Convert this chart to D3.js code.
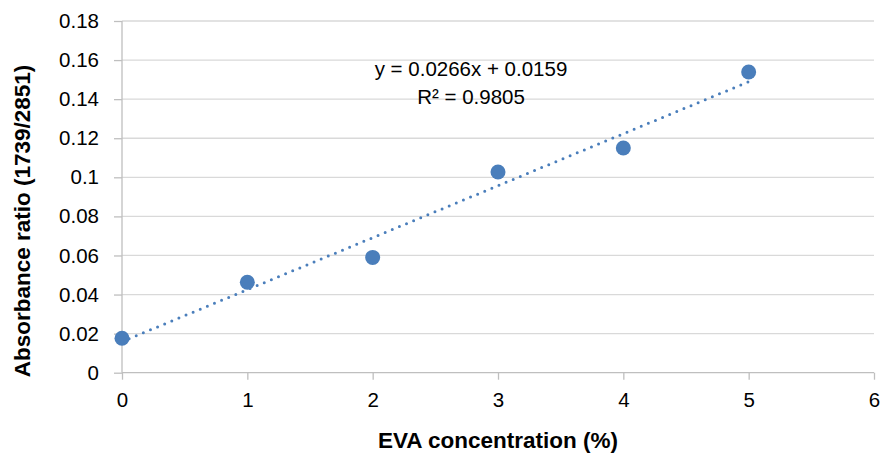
<!DOCTYPE html>
<html><head><meta charset="utf-8">
<script src="https://cdn.jsdelivr.net/npm/d3@7"></script>
<style>
body{margin:0;background:#fff;}
text{font-family:"Liberation Sans",Arial,sans-serif;fill:#000;}
</style></head>
<body><svg id="c" width="880" height="457"></svg>
<script>
const xValues = [0, 1, 2, 3, 4, 5];
const yValues = [0.0176, 0.0463, 0.0590, 0.1027, 0.1150, 0.1539];
const xTicks = [0, 1, 2, 3, 4, 5, 6];
const yTicks = [0, 0.02, 0.04, 0.06, 0.08, 0.1, 0.12, 0.14, 0.16, 0.18];
const trendSlope = 0.0266, trendIntercept = 0.0159;
const eqText = "y = 0.0266x + 0.0159";
const r2Text = "R² = 0.9805";
const xTitle = "EVA concentration (%)";
const yTitle = "Absorbance ratio (1739/2851)";

const svg = d3.select("#c");
const L = 122, R = 874, T = 21, B = 372.7;
const x = d3.scaleLinear().domain([0, 6]).range([L, R]);
const y = d3.scaleLinear().domain([0, 0.18]).range([B, T]);
const blue = "#4a7ebb";
const fs = 20.5;

// gridlines
svg.append("g").selectAll("line").data(yTicks.filter(d => d > 0)).join("line")
  .attr("x1", L).attr("x2", R).attr("y1", d => y(d)).attr("y2", d => y(d))
  .attr("stroke", "#d9d9d9").attr("stroke-width", 1.3);

// y axis
const ya = svg.append("g").attr("transform", `translate(${L},0)`)
  .call(d3.axisLeft(y).tickValues(yTicks).tickSize(8).tickPadding(15).tickFormat(d => d3.format("")(+d.toFixed(2))));
ya.select(".domain").attr("stroke", "#bfbfbf").attr("stroke-width", 1.3).attr("d", `M0,${B}V${T}`);
ya.selectAll(".tick line").attr("stroke", "#bfbfbf").attr("stroke-width", 1.3);
ya.selectAll(".tick text").attr("font-size", fs).attr("font-family", "Liberation Sans, Arial, sans-serif").attr("fill", "#000");

// x axis
const xa = svg.append("g").attr("transform", `translate(0,${B})`)
  .call(d3.axisBottom(x).tickValues(xTicks).tickSize(7).tickPadding(13).tickFormat(d3.format("d")));
xa.select(".domain").attr("stroke", "#bfbfbf").attr("stroke-width", 1.3).attr("d", `M${L},0H${R}`);
xa.selectAll(".tick line").attr("stroke", "#bfbfbf").attr("stroke-width", 1.3);
xa.selectAll(".tick text").attr("font-size", fs).attr("font-family", "Liberation Sans, Arial, sans-serif").attr("fill", "#000");

// trendline
const x0 = d3.min(xValues), x1 = d3.max(xValues);
svg.append("line")
  .attr("x1", x(x0)).attr("y1", y(trendIntercept + trendSlope * x0))
  .attr("x2", x(x1)).attr("y2", y(trendIntercept + trendSlope * x1))
  .attr("stroke", blue).attr("stroke-width", 3).attr("stroke-linecap", "round")
  .attr("stroke-dasharray", "0 7.7");

// points
svg.append("g").selectAll("circle").data(xValues.map((v, i) => [v, yValues[i]])).join("circle")
  .attr("cx", d => x(d[0])).attr("cy", d => y(d[1])).attr("r", 7.5).attr("fill", blue);

// equation
svg.append("text").attr("x", 471).attr("y", 76).attr("text-anchor", "middle").attr("font-size", fs).text(eqText);
svg.append("text").attr("x", 471).attr("y", 104).attr("text-anchor", "middle").attr("font-size", fs).text(r2Text);

// axis titles
svg.append("text").attr("x", 498).attr("y", 448).attr("text-anchor", "middle")
  .attr("font-size", 22.5).attr("font-weight", "bold").text(xTitle);
svg.append("text").attr("transform", "translate(30,221) rotate(-90)").attr("text-anchor", "middle")
  .attr("font-size", 22.5).attr("font-weight", "bold").text(yTitle);
</script></body></html>
